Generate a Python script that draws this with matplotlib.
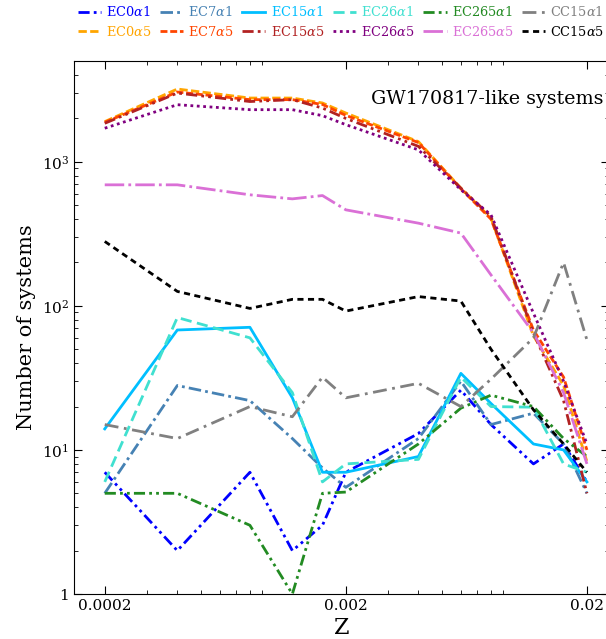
import numpy as np
import matplotlib
matplotlib.use("Agg")
import matplotlib.pyplot as plt

plt.rcParams["font.family"] = "DejaVu Serif"
plt.rcParams["mathtext.fontset"] = "dejavuserif"

# metallicity grid
Z = [0.0002, 0.0004, 0.0008, 0.0012, 0.0016, 0.002, 0.004, 0.006, 0.008, 0.012, 0.016, 0.02]

ec0_a1 = [7, 2, 7, 2, 3, 7, 13, 26, 15, 8, 11, 6]
ec7_a1 = [5, 28, 22, 12, 7.5, 5.5, 12, 30, 15, 18, 11, 5]
ec15_a1 = [14, 68, 71, 23, 7, 7, 9, 34, 21, 11, 10, 6]
ec26_a1 = [6, 83, 60, 25, 6, 8, 8.6, 32, 20, 19.8, 8, 7]
ec265_a1 = [5, 5, 3, 1, 5, 5.1, 11, 19.5, 24, 20, 12, 9]
cc15_a1 = [15, 12, 20, 17, 32, 23, 29, 20, 31, 60, 200, 58]

ec0_a5 = [1900, 3200, 2770, 2770, 2560, 2180, 1380, 656, 406, 62, 28, 8.3]
ec7_a5 = [1880, 3050, 2700, 2700, 2500, 2100, 1360, 650, 400, 68, 32, 10]
ec15_a5 = [1850, 3000, 2620, 2700, 2360, 2000, 1280, 656, 417, 65, 22, 5]
ec26_a5 = [1710, 2490, 2300, 2300, 2090, 1810, 1210, 640, 428, 89, 30, 11]
ec265_a5 = [692, 692, 590, 553, 583, 464, 375, 320, 164, 65, 25, 8]
cc15_a5 = [280, 126, 96, 111, 111, 92, 116, 108, 50, 19, 11, 7]

labels = [r"EC0$\alpha1$", r"EC0$\alpha5$", r"EC7$\alpha1$", r"EC7$\alpha5$",
          r"EC15$\alpha1$", r"EC15$\alpha5$", r"EC26$\alpha1$", r"EC26$\alpha5$",
          r"EC265$\alpha1$", r"EC265$\alpha5$", r"CC15$\alpha1$", r"CC15$\alpha5$"]
series = [ec0_a1, ec0_a5, ec7_a1, ec7_a5, ec15_a1, ec15_a5,
          ec26_a1, ec26_a5, ec265_a1, ec265_a5, cc15_a1, cc15_a5]
colors = ["blue", "orange", "steelblue", "orangered", "deepskyblue", "firebrick",
          "turquoise", "purple", "forestgreen", "orchid", "gray", "black"]
styles = [(0, (4, 1.5, 1, 1.5, 1, 1.5)), (0, (3, 1.2)),
          (0, (4.5, 1.5, 1, 1.5)), (0, (2.5, 1)),
          "-", (0, (4, 1.5, 1, 1.5, 1, 1.5)),
          (0, (4, 2)), (0, (1, 1.3)),
          (0, (4, 1.5, 1, 1.5, 1, 1.5)), (0, (7, 1.5, 1, 1.5)),
          (0, (5, 2, 1, 2)), (0, (2.2, 1.6))]

fig = plt.figure(figsize=(6.06, 6.39), dpi=100)
ax = fig.add_axes([0.122, 0.0704, 0.883, 0.834])

handles = []
for y, lab, c, ls in zip(series, labels, colors, styles):
    h, = ax.plot(Z, y, color=c, linestyle=ls, lw=2, label=lab)
    handles.append(h)

ax.set_xscale("log")
ax.set_yscale("log")
ax.set_xlim(1.49e-4, 2.47e-2)
ax.set_ylim(1, 5000)
ax.set_xticks([0.0002, 0.002, 0.02])
ax.set_xticklabels(["0.0002", "0.002", "0.02"])
ax.set_yticks([1, 10, 100, 1000])
ax.set_yticklabels(["1", r"$10^1$", r"$10^2$", r"$10^3$"])
ax.tick_params(which="both", direction="in", top=True, right=True, labelsize=11)
ax.tick_params(which="major", length=6)
ax.tick_params(which="minor", length=3)
ax.set_xlabel("Z", fontsize=16, labelpad=3)
ax.set_ylabel("Number of systems", fontsize=15)

ax.text(0.989, 0.929, "GW170817-like systems", transform=ax.transAxes,
        ha="right", va="center", fontsize=13.7)

leg = fig.legend(handles=handles, ncol=6, loc="upper left", bbox_to_anchor=(0.128, 0.992),
                 frameon=False, fontsize=9.3, handlelength=1.8, handletextpad=0.4,
                 columnspacing=0.66, labelspacing=0.45, borderaxespad=0, borderpad=0)
for txt, c in zip(leg.get_texts(), colors):
    txt.set_color(c)

fig.savefig("out.png", dpi=100)
